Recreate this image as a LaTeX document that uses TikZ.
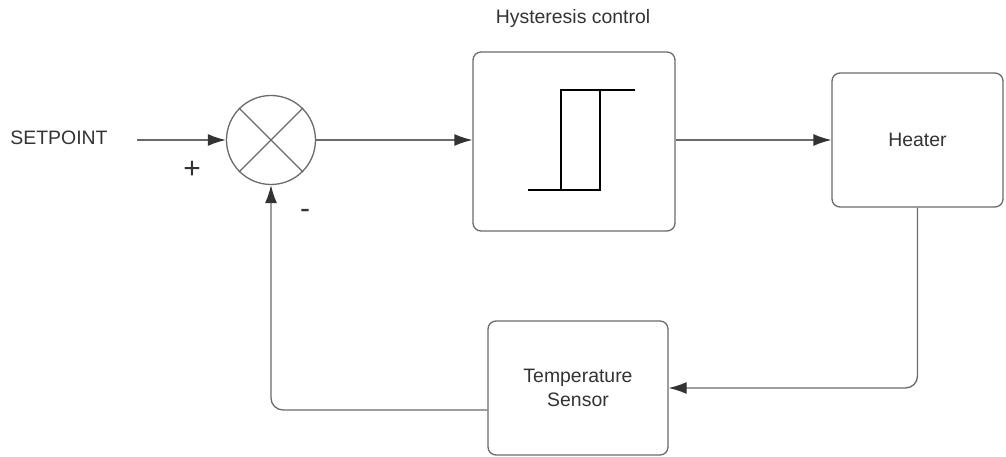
\documentclass[tikz,border=0pt]{standalone}
\usepackage{fontspec}
\setmainfont{Liberation Sans}
\usetikzlibrary{arrows.meta,positioning,calc}
\definecolor{txt}{HTML}{333333}
\definecolor{ln}{HTML}{6A6A6A}
\begin{document}
\begin{tikzpicture}[x=1bp,y=-1bp,
  lbl/.style={text=txt,font=\fontsize{19.5}{22}\selectfont,inner sep=0pt},
  blockbox/.style={draw=ln,line width=1.3bp,rounded corners=8bp,inner sep=0pt,align=center,text=txt,font=\fontsize{19.5}{24}\selectfont},
  conn/.style={draw=ln,line width=1.3bp,-{Latex[length=18bp,width=12bp,fill=txt,color=txt]}},
  plain/.style={draw=ln,line width=1.3bp}
]
\useasboundingbox (0,0) rectangle (1006,457);
% nodes
\node[lbl] (sp) at (59,138) {SETPOINT};
\coordinate (spstart) at (137,140);
\node[circle,draw=ln,line width=1.3bp,minimum size=89bp,inner sep=0pt] (sum) at (271,140) {};
\draw[plain] (sum.north west) -- (sum.south east);
\draw[plain] (sum.north east) -- (sum.south west);
\node[lbl,font=\fontsize{30}{30}\selectfont] (plus) at (192,170) {+};
\node[lbl,font=\fontsize{30}{30}\selectfont] (minus) at (305,214) {-};
\node[blockbox,minimum width=202bp,minimum height=179bp] (hyst) at (574,141.5) {};
\node[lbl] (hystlbl) at (573,18) {Hysteresis control};
\node[blockbox,minimum width=171bp,minimum height=134bp] (heater) at (917.5,140) {Heater};
\node[blockbox,minimum width=180bp,minimum height=134bp] (sensor) at (578,388) {Temperature\\Sensor};
% hysteresis symbol
\draw[black,line width=2bp] (528,190) -- (600,190) -- (600,90) -- (635,90);
\draw[black,line width=2bp] (561,190) -- (561,90) -- (600,90);
% connectors
\draw[conn] (spstart) -- (sum.west);
\draw[conn] (sum.east) -- (sum.east -| hyst.west);
\draw[conn] (hyst.east |- heater.west) -- (heater.west);
\draw[conn,rounded corners=12bp] (heater.south) |- (sensor.east);
\draw[conn,rounded corners=12bp] ([yshift=-22bp]sensor.west) -| (sum.south);
\end{tikzpicture}
\end{document}
